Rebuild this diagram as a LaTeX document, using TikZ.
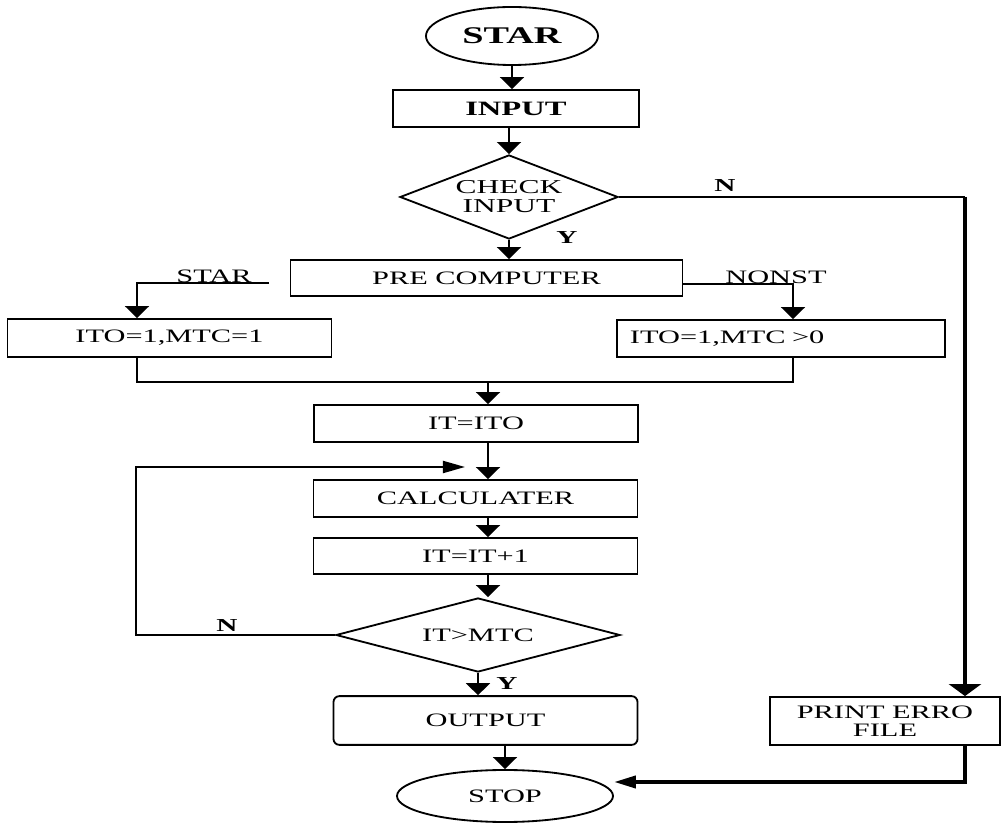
\documentclass[tikz,border=0pt]{standalone}
\usepackage{fontspec}
\setmainfont[FakeStretch=1.6]{Liberation Serif}
\usetikzlibrary{shapes.geometric,arrows.meta}

\begin{document}
\begin{tikzpicture}[x=0.025cm,y=-0.025cm,line width=1.3pt,
  box/.style={draw,rectangle,inner sep=0pt,minimum height=0.925cm,font=\fontsize{13.5}{14}\selectfont},
  term/.style={draw,ellipse,inner sep=0pt},
  dec/.style={draw,diamond,inner sep=0pt,align=center},
  lab/.style={font=\bfseries\fontsize{13}{13}\selectfont},
  txt/.style={font=\fontsize{13.5}{14}\selectfont},
  arr/.style={-{Triangle[length=0.3cm,width=0.6cm]}},
  longarr/.style={-{Triangle[length=0.55cm,width=0.3cm]}},
  heavy/.style={line width=2.8pt}]
\useasboundingbox (0,0) rectangle (1002,826);
\node[term,minimum width=4.3cm,minimum height=1.45cm,font=\bfseries\fontsize{17}{17}\selectfont] (st) at (512,36) {STAR};
\node[box,minimum width=6.15cm,font=\bfseries\fontsize{14.5}{14.5}\selectfont] (in) at (516,108.5) {INPUT};
\node[dec,aspect=2.6,minimum width=5.45cm,minimum height=2.1cm,font=\fontsize{14}{13.5}\selectfont] (ck) at (509,197) {CHECK\\INPUT};
\node[box,minimum width=9.8cm,minimum height=0.9cm] (pc) at (486.5,278) {PRE COMPUTER};
\node[box,minimum width=8.1cm,minimum height=0.95cm] (ia) at (169.5,338) {ITO=1,MTC=1};
\node[box,minimum width=8.2cm,inner xsep=0.325cm,text width=7.55cm,align=left] (ib) at (781,338.5) {ITO=1,MTC >0};
\node[box,minimum width=8.1cm] (it) at (476,423.5) {IT=ITO};
\node[box,minimum width=8.1cm] (ca) at (475.5,498.5) {CALCULATER};
\node[box,minimum width=8.1cm,minimum height=0.9cm] (ic) at (475.5,556) {IT=IT+1};
\node[dec,aspect=3.85,minimum width=7.1cm,minimum height=1.85cm,font=\fontsize{13.5}{14}\selectfont] (cm) at (478,635) {IT>MTC};
\node[box,rounded corners=0.15cm,minimum width=7.6cm,minimum height=1.22cm] (ou) at (485.5,720.5) {OUTPUT};
\node[term,minimum width=5.4cm,minimum height=1.3cm,font=\fontsize{13.5}{14}\selectfont] (sp) at (505,796) {STOP};
\node[box,minimum width=5.75cm,minimum height=1.2cm,align=center,font=\fontsize{13.5}{13}\selectfont] (pe) at (885,721) {PRINT ERRO\\FILE};
\node[lab] (n1) at (725,186) {N};
\node[lab] (y1) at (567,238) {Y};
\node[txt] (s1) at (214,276) {STAR};
\node[txt] (s2) at (776,277) {NONST};
\node[lab] (n2) at (227,626) {N};
\node[lab] (y2) at (507,684) {Y};
\coordinate (rt) at (965,197);
\coordinate (sl) at (269,283);
\coordinate (sa) at (137,283);
\coordinate (nb) at (793,284);
\coordinate (ml) at (137,382);
\coordinate (mr) at (793,382);
\coordinate (mc) at (488,382);
\coordinate (lt) at (136,467);
\coordinate (lh) at (465,467);
\coordinate (sb) at (965,782);
\draw[arr] (st.south) -- (st.south |- in.north);
\draw[arr] (ck.north |- in.south) -- (ck.north);
\draw[arr] (ck.south) -- (ck.south |- pc.north);
\draw (ck.east) -- (rt |- ck.east);
\draw[heavy,-{Triangle[length=0.3cm,width=0.8cm]}] (rt |- ck.east) -- (rt |- pe.north);
\draw[arr] (sl) -- (sa) -- (sa |- ia.north);
\draw[arr] (pc.east |- nb) -- (nb) -- (nb |- ib.north);
\draw (ml |- ia.south) -- (ml) -- (mr) -- (mr |- ib.south);
\draw[arr] (mc) -- (mc |- it.north);
\draw[arr] (mc |- it.south) -- (mc |- ca.north);
\draw[arr] (mc |- ca.south) -- (mc |- ic.north);
\draw[arr] (mc |- ic.south) -- (mc |- cm.north);
\draw[longarr] (cm.west) -| (lt) -- (lh);
\draw[arr] (cm.south) -- (cm.south |- ou.north);
\draw[arr] (sp.north |- ou.south) -- (sp.north);
\draw[heavy,longarr] (rt |- pe.south) -- (sb) -- (sp.east |- sb);
\end{tikzpicture}
\end{document}
